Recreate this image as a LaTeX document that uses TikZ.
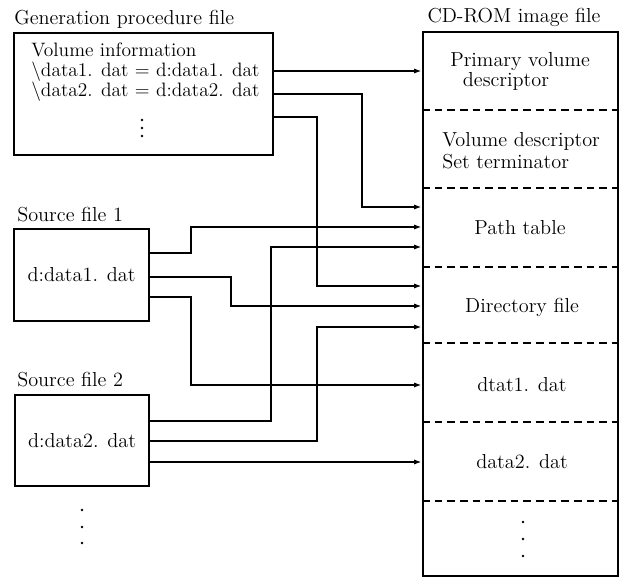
\documentclass[tikz,border=0pt]{standalone}
\usepackage{tikz}
\usetikzlibrary{arrows.meta, positioning, calc}

\begin{document}
\begin{tikzpicture}[x=0.025cm, y=-0.025cm, font=\fontsize{14.4}{14.2}\selectfont,
  filebox/.style={draw, line width=1.3pt, inner sep=0pt},
  conn/.style={line width=0.8pt, shorten >=0.6pt, -{Latex[length=5pt, width=3.6pt]}},
  divider/.style={line width=1pt, dash pattern=on 5.5pt off 3.5pt},
  title/.style={anchor=base west, inner sep=0pt}]
  \useasboundingbox (0,0) rectangle (621,578);
  % Generation procedure file
  \node[title] (gentitle) at (14,25) {Generation procedure file};
  \node[filebox, minimum width=6.475cm, minimum height=3.05cm] (gen) at (143.5,94) {};
  \node[anchor=west, align=left, inner sep=0pt, font=\fontsize{13.8}{14.2}\selectfont] (volinfo) at (31,72) {Volume information\\\textbackslash data1. dat = d:data1. dat\\\textbackslash data2. dat = d:data2. dat};
  \foreach \y in {120,128,136} \fill (142,\y) circle (0.9pt);
  % Source files
  \node[title] (src1title) at (17,222) {Source file 1};
  \node[filebox, minimum width=3.375cm, minimum height=2.3cm] (src1) at (81.5,275) {d:data1. dat};
  \node[title] (src2title) at (17,387) {Source file 2};
  \node[filebox, minimum width=3.35cm, minimum height=2.275cm] (src2) at (82,440.5) {d:data2. dat};
  \foreach \y in {510,527,543} \fill (82,\y) circle (0.9pt);
  % CD-ROM image file
  \node[title, anchor=base] (cdtitle) at (514,23) {CD-ROM image file};
  \node[filebox, minimum width=4.875cm, minimum height=13.6cm] (cd) at (520.5,304) {};
  \foreach \y in {110,188,267,343,422,501}
    \draw[divider] (cd.west |- 0,\y) -- (cd.east |- 0,\y);
  \node[anchor=west, align=left, inner sep=0pt] (pvd) at (450,71) {Primary volume\\\hspace*{9pt}descriptor};
  \node[anchor=west, align=left, inner sep=0pt] (vdst) at (442,151) {Volume descriptor\\[1.5pt]Set terminator};
  \node (pathtab) at (520,228) {Path table};
  \node (dirfile) at (522,307) {Directory file};
  \node (dtat1) at (522,385) {dtat1. dat};
  \node (data2) at (522,462) {data2. dat};
  \foreach \y in {522,539,556} \fill (523,\y) circle (0.9pt);
  % ports
  \foreach \n/\y in {1/71,2/207,3/227,4/247,5/286,6/306,7/327,8/385,9/462}
    \coordinate (t\n) at (cd.west |- 0,\y);
  \foreach \n/\y in {1/71,2/94,3/117}
    \coordinate (g\n) at (gen.east |- 0,\y);
  \foreach \n/\y in {1/253,2/277,3/297}
    \coordinate (a\n) at (src1.east |- 0,\y);
  \foreach \n/\y in {1/421,2/441,3/462}
    \coordinate (b\n) at (src2.east |- 0,\y);
  % connectors
  \draw[conn] (g1) -- (t1);
  \draw[conn] (g2) -| (362,207) -- (t2);
  \draw[conn] (g3) -| (317,286) -- (t5);
  \draw[conn] (a1) -| (191,227) -- (t3);
  \draw[conn] (a2) -| (231,306) -- (t6);
  \draw[conn] (a3) -| (191,385) -- (t8);
  \draw[conn] (b1) -| (271,247) -- (t4);
  \draw[conn] (b2) -| (317,327) -- (t7);
  \draw[conn] (b3) -- (t9);
\end{tikzpicture}
\end{document}
